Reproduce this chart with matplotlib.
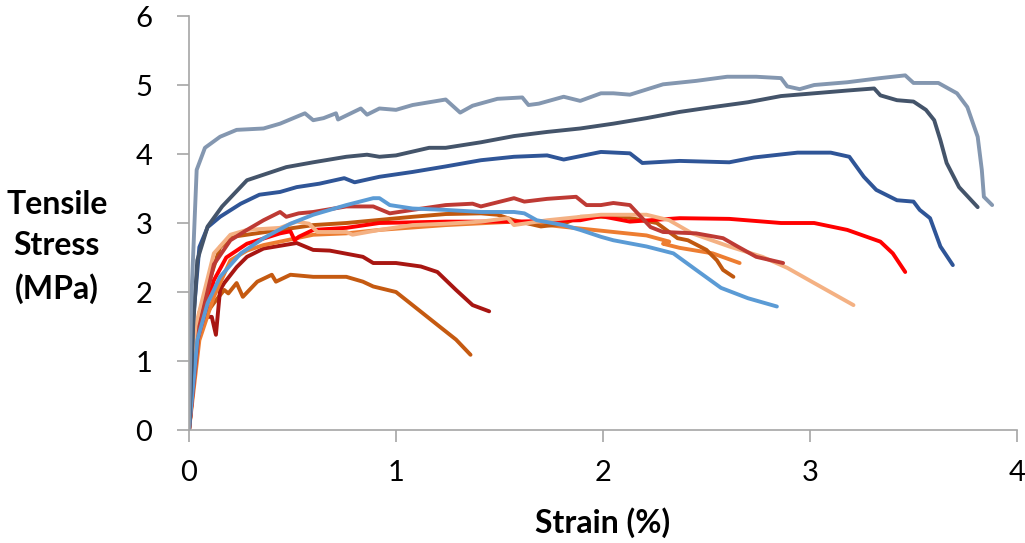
import matplotlib
matplotlib.use("Agg")
import matplotlib.pyplot as plt

plt.rcParams['font.family'] = ['Lato', 'DejaVu Sans']

# Curve data (strain %, stress MPa)
steel_x = [0, 0.01, 0.037, 0.077, 0.15, 0.23, 0.36, 0.44, 0.56, 0.60, 0.65, 0.71, 0.72, 0.83, 0.86, 0.92, 1.0, 1.08,
           1.24, 1.31, 1.37, 1.49, 1.61, 1.64, 1.69, 1.81, 1.89, 1.99, 2.05, 2.13, 2.29, 2.45, 2.60, 2.74, 2.86,
           2.89, 2.95, 3.02, 3.18, 3.34, 3.46, 3.50, 3.62, 3.71, 3.76, 3.81, 3.83, 3.84, 3.88]
steel_y = [0, 1.8, 3.77, 4.09, 4.25, 4.35, 4.37, 4.44, 4.59, 4.49, 4.52, 4.59, 4.50, 4.66, 4.57, 4.66, 4.64, 4.71,
           4.79, 4.60, 4.70, 4.80, 4.82, 4.71, 4.73, 4.83, 4.77, 4.88, 4.88, 4.86, 5.01, 5.06, 5.12, 5.12, 5.10,
           4.98, 4.94, 5.00, 5.04, 5.10, 5.14, 5.03, 5.03, 4.88, 4.68, 4.25, 3.77, 3.38, 3.26]

slate_x = [0, 0.02, 0.04, 0.09, 0.16, 0.28, 0.36, 0.47, 0.60, 0.76, 0.86, 0.92, 1.0, 1.16, 1.24, 1.41, 1.57, 1.73,
           1.89, 2.05, 2.21, 2.37, 2.53, 2.70, 2.86, 3.02, 3.18, 3.31, 3.34, 3.42, 3.50, 3.56, 3.60, 3.63, 3.66,
           3.72, 3.81]
slate_y = [0, 1.5, 2.46, 2.95, 3.24, 3.62, 3.70, 3.81, 3.88, 3.96, 3.99, 3.96, 3.98, 4.09, 4.09, 4.17, 4.26, 4.32,
           4.37, 4.44, 4.52, 4.61, 4.68, 4.75, 4.84, 4.88, 4.92, 4.95, 4.85, 4.78, 4.76, 4.64, 4.49, 4.20, 3.87,
           3.52, 3.23]

blue_x = [0, 0.02, 0.05, 0.09, 0.15, 0.25, 0.34, 0.44, 0.52, 0.63, 0.75, 0.80, 0.92, 1.08, 1.24, 1.41, 1.57, 1.73,
          1.81, 1.99, 2.13, 2.19, 2.37, 2.61, 2.73, 2.94, 3.10, 3.19, 3.26, 3.32, 3.42, 3.50, 3.53, 3.58, 3.63, 3.69]
blue_y = [0, 1.6, 2.65, 2.94, 3.09, 3.28, 3.41, 3.45, 3.52, 3.57, 3.65, 3.59, 3.67, 3.74, 3.82, 3.91, 3.96, 3.98,
          3.92, 4.03, 4.01, 3.87, 3.90, 3.88, 3.95, 4.02, 4.02, 3.96, 3.67, 3.48, 3.33, 3.31, 3.19, 3.07, 2.66, 2.39]

sky_x = [0, 0.04, 0.09, 0.15, 0.25, 0.36, 0.49, 0.60, 0.76, 0.89, 0.92, 0.97, 1.08, 1.24, 1.41, 1.57, 1.62, 1.68,
         1.81, 1.89, 1.99, 2.05, 2.21, 2.34, 2.45, 2.57, 2.70, 2.84]
sky_y = [0, 1.30, 1.84, 2.22, 2.56, 2.78, 2.99, 3.12, 3.26, 3.36, 3.36, 3.26, 3.21, 3.19, 3.16, 3.16, 3.14, 3.04,
         2.97, 2.90, 2.80, 2.75, 2.66, 2.56, 2.32, 2.06, 1.91, 1.79]

red_x = [0, 0.04, 0.12, 0.18, 0.28, 0.44, 0.49, 0.51, 0.53, 0.60, 0.76, 0.92, 1.24, 1.57, 1.89, 1.99, 2.13, 2.37,
         2.61, 2.86, 3.02, 3.18, 3.34, 3.40, 3.46]
red_y = [0, 1.30, 2.17, 2.50, 2.70, 2.85, 2.88, 2.75, 2.80, 2.90, 2.93, 3.00, 3.02, 3.02, 3.04, 3.10, 3.02, 3.07,
         3.06, 3.00, 3.00, 2.90, 2.73, 2.56, 2.29]

brick_x = [0, 0.05, 0.12, 0.20, 0.28, 0.36, 0.44, 0.47, 0.53, 0.60, 0.76, 0.89, 0.97, 1.08, 1.24, 1.37, 1.41, 1.57,
           1.62, 1.73, 1.87, 1.92, 1.99, 2.05, 2.13, 2.23, 2.29, 2.45, 2.58, 2.65, 2.74, 2.87]
brick_y = [0, 1.50, 2.40, 2.75, 2.90, 3.04, 3.16, 3.09, 3.14, 3.16, 3.24, 3.24, 3.14, 3.19, 3.26, 3.28, 3.24, 3.36,
           3.31, 3.35, 3.38, 3.26, 3.26, 3.29, 3.26, 2.94, 2.87, 2.85, 2.78, 2.66, 2.51, 2.42]

darkred_x = [0, 0.05, 0.11, 0.13, 0.15, 0.17, 0.23, 0.28, 0.36, 0.52, 0.60, 0.68, 0.84, 0.89, 1.0, 1.12, 1.20, 1.29,
             1.37, 1.45]
darkred_y = [0, 1.64, 1.64, 1.38, 2.03, 2.13, 2.36, 2.51, 2.63, 2.71, 2.61, 2.60, 2.51, 2.42, 2.42, 2.37, 2.29, 2.03,
             1.81, 1.72]

rust_x = [0, 0.05, 0.12, 0.17, 0.19, 0.23, 0.26, 0.33, 0.40, 0.42, 0.49, 0.60, 0.76, 0.84, 0.89, 1.0, 1.08, 1.21,
          1.29, 1.36]
rust_y = [0, 1.55, 1.84, 2.03, 1.98, 2.13, 1.93, 2.15, 2.25, 2.15, 2.25, 2.22, 2.22, 2.15, 2.08, 2.00, 1.81, 1.50,
          1.31, 1.09]

burnt_x = [0, 0.05, 0.15, 0.21, 0.44, 0.60, 0.76, 1.08, 1.24, 1.41, 1.49, 1.57, 1.70, 1.81, 1.89, 2.10, 2.26, 2.36,
           2.41, 2.50, 2.55, 2.58, 2.63]
burnt_y = [0, 1.70, 2.65, 2.80, 2.90, 2.97, 3.00, 3.09, 3.13, 3.14, 3.12, 3.04, 2.95, 2.99, 3.09, 3.09, 3.00, 2.78,
           2.75, 2.61, 2.46, 2.32, 2.22]

orange_x = [0, 0.05, 0.12, 0.20, 0.28, 0.36, 0.44, 0.60, 0.76, 0.92, 1.24, 1.57, 1.89, 2.05, 2.21, 2.32, 2.29, 2.37,
            2.53, 2.66]
orange_y = [0, 1.30, 1.93, 2.46, 2.60, 2.68, 2.73, 2.83, 2.85, 2.90, 2.97, 3.02, 2.92, 2.87, 2.82, 2.73, 2.70, 2.64,
            2.56, 2.42]

salmon_x = [0, 0.04, 0.12, 0.20, 0.28, 0.44, 0.52, 0.58, 0.62, 0.76, 0.79, 0.92, 1.08, 1.24, 1.41, 1.54, 1.57, 1.73,
            1.99, 2.05, 2.21, 2.32, 2.43, 2.61, 2.77, 2.89, 3.02, 3.21]
salmon_y = [0, 1.60, 2.56, 2.83, 2.90, 2.93, 3.02, 2.99, 2.87, 2.87, 2.83, 2.90, 2.97, 2.99, 3.02, 3.07, 2.97, 3.04,
            3.12, 3.12, 3.12, 3.04, 2.85, 2.66, 2.51, 2.35, 2.13, 1.81]

x_ticks = [0, 1, 2, 3, 4]
y_ticks = [0, 1, 2, 3, 4, 5, 6]

series = [
    (rust_x, rust_y, '#C55A11'),
    (darkred_x, darkred_y, '#A81612'),
    (orange_x, orange_y, '#ED7D31'),
    (burnt_x, burnt_y, '#C0580F'),
    (red_x, red_y, '#FF0000'),
    (salmon_x, salmon_y, '#F4B183'),
    (brick_x, brick_y, '#BE3A34'),
    (sky_x, sky_y, '#5B9BD5'),
    (blue_x, blue_y, '#2F5597'),
    (slate_x, slate_y, '#44546A'),
    (steel_x, steel_y, '#8497B0'),
]

fig = plt.figure(figsize=(10.25, 5.43), dpi=100)
ax = fig.add_axes([0.1844, 0.2081, 0.8078, 0.7624])

for xs, ys, c in series:
    ax.plot(xs, ys, color=c, lw=2.8, solid_joinstyle='round', solid_capstyle='round')

ax.set_xlim(0, 4)
ax.set_ylim(0, 6)
ax.set_xticks(x_ticks)
ax.set_yticks(y_ticks)
ax.set_xticklabels([str(t) for t in x_ticks])
ax.set_yticklabels([str(t) for t in y_ticks])
for s in ['top', 'right']:
    ax.spines[s].set_visible(False)
for s in ['left', 'bottom']:
    ax.spines[s].set_color('#A6A6A6')
    ax.spines[s].set_linewidth(1.2)
ax.tick_params(axis='both', direction='out', length=8.5, width=1.2, color='#A6A6A6',
               labelsize=21, labelcolor='black')
ax.tick_params(axis='x', pad=13)
ax.tick_params(axis='y', pad=18)

fig.text(0.588, 0.037, 'Strain (%)', fontsize=23, fontweight='bold', ha='center', va='center')
fig.text(0.0556, 0.545, 'Tensile\nStress\n(MPa)', fontsize=23, fontweight='bold',
         ha='center', va='center', linespacing=1.5)

fig.savefig('out.png', dpi=100)
